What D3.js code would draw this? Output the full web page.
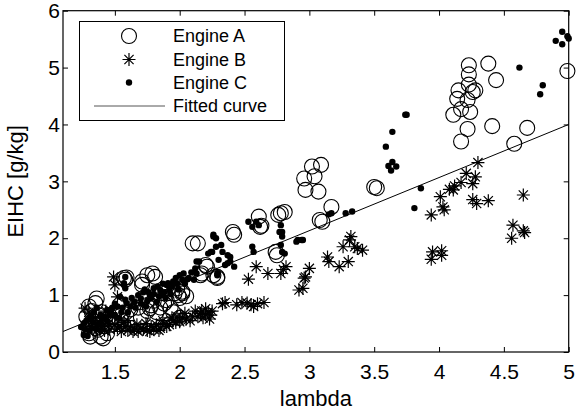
<!DOCTYPE html>
<html>
<head>
<meta charset="utf-8">
<script src="https://cdn.jsdelivr.net/npm/d3@7/dist/d3.min.js"></script>
<style>
  html, body { margin: 0; padding: 0; background: #fff; }
  svg { display: block; }
  text { font-family: Arial, "Liberation Sans", sans-serif; fill: #000; }
</style>
</head>
<body>
<svg id="chart" width="577" height="419"></svg>
<script>
// Engine A measurements: [lambda, EIHC]
const engineA = [
  [4.23,5.04],[4.38,5.07],[4.23,4.88],[4.44,4.78],[4.23,4.70],[4.15,4.60],[4.26,4.57],[4.28,4.60],
  [4.14,4.45],[4.22,4.43],[4.17,4.27],[4.11,4.17],[4.24,4.22],[4.22,3.92],[4.41,3.97],[4.17,3.70],
  [4.68,3.94],[4.58,3.66],[4.99,4.94],
  [3.02,3.26],[3.09,3.29],[3.04,3.09],[2.96,3.05],[3.07,2.82],[2.97,2.85],[3.17,2.55],[3.08,2.32],
  [3.10,2.29],[3.50,2.90],[3.52,2.88],
  [2.10,1.91],[2.14,1.91],[2.41,2.11],[2.42,2.06],[2.61,2.38],[2.62,2.20],[2.63,2.22],[2.76,2.41],
  [2.81,2.46],[2.78,2.44],[2.74,1.76],[2.75,1.70],[2.26,1.35],[2.29,1.30],[2.17,1.38],[2.21,1.50],
  [2.16,1.35],[2.29,1.32],[2.20,1.53],
  [1.75,1.35],[1.79,1.38],[1.81,1.32],[1.71,1.18],[1.57,1.30],[1.59,1.31],[1.58,1.27],[1.71,1.24],
  [1.36,0.94],[1.35,0.86],[1.30,0.80],
  [1.99,1.00],[2.02,1.06],[1.98,1.12],[2.00,0.95],[1.96,1.03],[1.90,0.91],[1.88,0.85],[1.93,0.78],
  [2.05,0.98],[2.02,1.03],
  [1.31,0.27],[1.39,0.27],[1.44,0.33],[1.30,0.33],[1.35,0.42],[1.42,0.45],[1.33,0.55],[1.28,0.62],
  [1.37,0.65],[1.32,0.72],[1.40,0.70],[1.47,0.48],[1.45,0.60],[1.41,0.24],[1.37,0.39],
  [1.62,0.75],[1.68,0.78],[1.75,0.72],[1.82,0.70],[1.85,0.78],[1.78,0.82],[1.56,0.68],[1.70,0.62],
  [1.80,0.90],[1.72,0.95],[1.95,0.70],[2.00,0.60],[1.77,0.77]
];

// Engine B measurements: [lambda, EIHC]
const engineB = [
  [4.30,3.33],[4.21,3.14],[4.28,3.08],[4.26,2.96],[4.17,2.98],[4.12,2.92],[4.11,2.85],[4.08,2.86],
  [4.01,2.73],[4.03,2.55],[4.04,2.50],[3.94,2.41],[4.26,2.68],[4.29,2.61],[4.38,2.66],[4.65,2.76],
  [4.57,2.23],[4.56,2.00],[4.65,2.13],[4.66,2.10],[3.95,1.76],[4.02,1.78],[3.94,1.63],[4.02,1.70],
  [3.32,2.03],[3.31,1.97],[3.26,1.85],[3.35,1.85],[3.41,1.79],[3.14,1.67],[3.15,1.59],[3.23,1.50],
  [3.30,1.59],[3.37,1.82],
  [3.00,1.47],[2.97,1.32],[2.95,1.12],[2.92,1.09],[2.96,1.30],
  [2.59,1.50],[2.53,1.28],[2.68,1.38],[2.78,1.38],[2.82,1.50],[2.80,1.45],
  [2.33,0.85],[2.35,0.87],[2.44,0.83],[2.48,0.87],[2.52,0.86],[2.55,0.83],[2.60,0.85],[2.65,0.87],
  [2.57,0.80],
  [2.22,0.70],[2.20,0.76],[2.24,0.65],[2.16,0.68],[2.18,0.60],[2.10,0.62],[2.05,0.58],[2.00,0.53],
  [1.95,0.55],[1.90,0.45],[1.85,0.42],[1.80,0.40],[1.75,0.38],[1.70,0.42],[1.65,0.40],[1.60,0.38],
  [1.55,0.36],[1.52,0.42],[1.58,0.45],[1.68,0.36],[1.78,0.45],[1.88,0.50],[1.98,0.62],[2.12,0.72],
  [1.49,1.32],[1.50,1.18],[1.52,0.97],[1.27,0.77],[1.30,0.70],[1.35,0.60],[1.40,0.55],[1.45,0.50],
  [1.32,0.45],[1.38,0.40],[1.43,0.72],[1.48,0.62],
  [1.30,0.55],[1.33,0.40],[1.36,0.50],[1.40,0.45],[1.42,0.38],[1.46,0.40],[1.50,0.48],[1.54,0.44],
  [1.57,0.52],[1.62,0.44],[1.64,0.36],[1.67,0.48],[1.72,0.40],[1.74,0.50],[1.77,0.36],[1.82,0.48],
  [1.84,0.38],[1.87,0.55],[1.92,0.48],[1.94,0.60],[1.97,0.52],[2.02,0.60],[2.04,0.68],[2.08,0.55],
  [2.14,0.62],[2.17,0.72],[2.20,0.66],[2.23,0.58],[2.25,0.72],[1.55,0.58],[1.60,0.55]
];

// Engine C measurements: [lambda, EIHC]
const engineC = [
  [4.95,5.63],[4.90,5.47],[4.95,5.41],[5.00,5.51],[4.99,5.55],[4.62,5.00],[4.80,4.69],[4.78,4.53],
  [3.74,4.17],[3.75,4.17],[3.64,3.87],[3.59,3.61],[3.64,3.34],[3.61,3.27],[3.67,3.26],[3.63,3.19],
  [3.86,2.88],[3.81,2.53],[3.28,2.44],[3.33,2.47],[3.17,2.44],[3.15,2.42],
  [2.95,1.97],[2.90,1.94],[2.94,1.97],[2.81,1.73],[2.79,2.11],
  [2.53,2.29],[2.56,2.20],[2.61,2.23],[2.59,2.29],[2.78,2.23],[2.77,2.11],[2.79,2.03],[2.56,1.85],
  [2.57,1.76],[2.91,1.97],[2.78,1.88],[2.79,1.76],
  [2.26,2.06],[2.28,2.00],[2.26,2.03],[2.32,1.88],[2.24,1.76],[2.33,1.76],[2.37,1.70],[2.39,1.59],
  [2.30,1.62],[2.35,1.53],[2.42,1.50],[2.39,1.67],[2.37,1.56],[2.29,1.35],[2.22,1.73],[2.28,1.85],
  [2.25,1.76],[2.29,1.38],
  [2.13,1.59],[2.12,1.47],[2.15,1.59],[2.03,1.38],[2.07,1.30],[2.11,1.27],[2.13,1.38],[2.09,1.40],
  [1.58,1.32],[1.57,1.21],[1.58,1.12],[1.54,0.97],[1.57,1.18],
  [1.70,0.94],[1.77,1.00],[1.85,1.09],[1.90,1.18],[1.95,1.24],[2.02,1.27],[1.98,1.20],[1.88,1.05],
  [1.80,1.02],[1.75,0.90],[1.65,0.88],[1.62,0.80],[1.92,1.10],[1.84,0.98],[1.72,1.05],[1.91,1.21],
  [1.59,0.86],[1.52,0.80],[1.44,0.74],[1.39,0.65],[1.31,0.62],[1.26,0.50],[1.24,0.44],[1.26,0.30],
  [1.29,0.28],[1.33,0.52],[1.36,0.40],[1.40,0.58],[1.46,0.66],[1.48,0.78],[1.55,0.70],[1.30,0.38],
  [1.27,0.40],[1.28,0.55],[1.32,0.60],[1.34,0.70],[1.36,0.78],[1.38,0.50],[1.42,0.62],[1.44,0.55],
  [1.47,0.72],[1.50,0.65],[1.50,0.85],[1.53,0.60],[1.56,0.78],[1.58,0.92],[1.60,0.70],[1.63,0.95],
  [1.66,0.78],[1.68,1.00],[1.70,0.85],[1.73,1.10],[1.74,0.80],[1.76,1.05],[1.78,0.95],[1.80,1.12],
  [1.82,0.88],[1.83,1.15],[1.86,1.00],[1.87,1.20],[1.89,0.95],[1.93,1.02],[1.94,1.15],[1.97,1.30],
  [1.99,1.10],[2.00,1.35],[2.04,1.20],[2.06,1.28]
];

// Fitted curve sampled at its endpoints
const fitLambda = [1.1, 5.0];
const fitEIHC = [0.36, 4.0];

const xTicks = [1.5, 2, 2.5, 3, 3.5, 4, 4.5, 5];
const yTicks = [0, 1, 2, 3, 4, 5, 6];
const legendLabels = ["Engine A", "Engine B", "Engine C", "Fitted curve"];

const svg = d3.select("#chart");
const plot = { left: 63, right: 568.7, top: 10.7, bottom: 352 };

const x = d3.scaleLinear().domain([1.1, 5]).range([plot.left, plot.right]);
const y = d3.scaleLinear().domain([0, 6]).range([plot.bottom, plot.top]);

const tickFont = 21;
const titleFont = 22;

// Asterisk marker: four strokes through the centre
function starPath(r) {
  const d = r * Math.SQRT1_2;
  return `M${-r},0L${r},0M0,${-r}L0,${r}M${-d},${-d}L${d},${d}M${-d},${d}L${d},${-d}`;
}

const marks = svg.append("g");

marks.append("g").selectAll("circle").data(engineA).join("circle")
  .attr("cx", d => x(d[0])).attr("cy", d => y(d[1])).attr("r", 7.5)
  .attr("fill", "none").attr("stroke", "#000").attr("stroke-width", 1.1);

marks.append("g").selectAll("path").data(engineB).join("path")
  .attr("transform", d => `translate(${x(d[0])},${y(d[1])})`)
  .attr("d", starPath(6.5))
  .attr("fill", "none").attr("stroke", "#000").attr("stroke-width", 1.2);

marks.append("g").selectAll("circle").data(engineC).join("circle")
  .attr("cx", d => x(d[0])).attr("cy", d => y(d[1])).attr("r", 3.2)
  .attr("fill", "#000");

const fit = fitLambda.map((v, i) => [v, fitEIHC[i]]);
marks.append("path").datum(fit)
  .attr("d", d3.line().x(d => x(d[0])).y(d => y(d[1])))
  .attr("fill", "none").attr("stroke", "#000").attr("stroke-width", 1);

// Axes with inward ticks on all four sides
const tickLen = 5;
const gx = svg.append("g").attr("transform", `translate(0,${plot.bottom})`)
  .call(d3.axisBottom(x).tickValues(xTicks).tickFormat(d3.format("")).tickSizeInner(-tickLen).tickSizeOuter(0).tickPadding(12));
const gxt = svg.append("g").attr("transform", `translate(0,${plot.top})`)
  .call(d3.axisTop(x).tickValues(xTicks).tickFormat("").tickSizeInner(-tickLen).tickSizeOuter(0));
const gy = svg.append("g").attr("transform", `translate(${plot.left},0)`)
  .call(d3.axisLeft(y).tickValues(yTicks).tickFormat(d3.format("d")).tickSizeInner(-tickLen).tickSizeOuter(0).tickPadding(3));
const gyr = svg.append("g").attr("transform", `translate(${plot.right},0)`)
  .call(d3.axisRight(y).tickValues(yTicks).tickFormat("").tickSizeInner(-tickLen).tickSizeOuter(0));

[gx, gxt, gy, gyr].forEach(g => {
  g.select(".domain").remove();
  g.selectAll("line").attr("stroke", "#000");
  g.selectAll("text").attr("font-size", tickFont).attr("font-family", "Arial, 'Liberation Sans', sans-serif");
});

svg.append("rect")
  .attr("x", plot.left).attr("y", plot.top)
  .attr("width", plot.right - plot.left).attr("height", plot.bottom - plot.top)
  .attr("fill", "none").attr("stroke", "#000").attr("stroke-width", 1.2);

// Axis titles
svg.append("text").attr("x", (plot.left + plot.right) / 2).attr("y", 406)
  .attr("text-anchor", "middle").attr("font-size", titleFont).text("lambda");
svg.append("text").attr("transform", `translate(23,${(plot.top + plot.bottom) / 2}) rotate(-90)`)
  .attr("text-anchor", "middle").attr("font-size", titleFont).text("EIHC [g/kg]");

// Legend
const leg = svg.append("g");
leg.append("rect").attr("x", 79.5).attr("y", 21.5).attr("width", 205).attr("height", 99)
  .attr("fill", "#fff").attr("stroke", "#000").attr("stroke-width", 1);
const rowY = [36, 59.5, 82.5, 106];
const markX = 129;
leg.append("circle").attr("cx", markX).attr("cy", rowY[0]).attr("r", 7.5)
  .attr("fill", "none").attr("stroke", "#000").attr("stroke-width", 1.1);
leg.append("path").attr("transform", `translate(${markX},${rowY[1]})`).attr("d", starPath(6.5))
  .attr("fill", "none").attr("stroke", "#000").attr("stroke-width", 1.2);
leg.append("circle").attr("cx", markX).attr("cy", rowY[2]).attr("r", 3.2).attr("fill", "#000");
leg.append("line").attr("x1", 94).attr("x2", 165).attr("y1", rowY[3]).attr("y2", rowY[3])
  .attr("stroke", "#555").attr("stroke-width", 1);
leg.selectAll("text.lab").data(legendLabels).join("text").attr("class", "lab")
  .attr("x", 173).attr("y", (d, i) => rowY[i]).attr("dy", "0.35em")
  .attr("font-size", 18).text(d => d);
</script>
</body>
</html>
